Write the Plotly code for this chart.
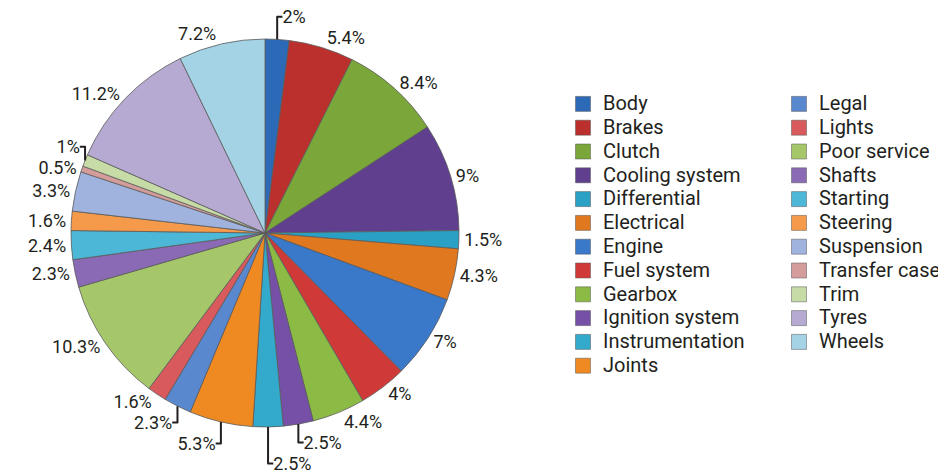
import plotly.graph_objects as go

categories = ["Body", "Brakes", "Clutch", "Cooling system", "Differential", "Electrical",
              "Engine", "Fuel system", "Gearbox", "Ignition system", "Instrumentation", "Joints",
              "Legal", "Lights", "Poor service", "Shafts", "Starting", "Steering",
              "Suspension", "Transfer case", "Trim", "Tyres", "Wheels"]
values = [2, 5.4, 8.4, 9, 1.5, 4.3, 7, 4, 4.4, 2.5, 2.5, 5.3,
          2.3, 1.6, 10.3, 2.3, 2.4, 1.6, 3.3, 0.5, 1, 11.2, 7.2]
labels_text = ["2%", "5.4%", "8.4%", "9%", "1.5%", "4.3%", "7%", "4%", "4.4%", "2.5%", "2.5%", "5.3%",
               "2.3%", "1.6%", "10.3%", "2.3%", "2.4%", "1.6%", "3.3%", "0.5%", "1%", "11.2%", "7.2%"]
colors = ["#2c69b6", "#bb2f2c", "#7aa63a", "#5f3f8e", "#2aa0c4", "#e0781f",
          "#3a78c9", "#cf3a38", "#8bbb44", "#7550a6", "#33a9cb", "#ef8a22",
          "#5a88cf", "#d85a5c", "#a5c76a", "#8a6ab4", "#4db7d8", "#f49a4a",
          "#9fb3de", "#d59c9c", "#c6dba6", "#b7aad2", "#a4d3e6"]

fig = go.Figure()
fig.add_trace(go.Pie(
    labels=categories, values=values, text=labels_text,
    texttemplate="%{text}", textposition="outside", textinfo="text",
    sort=False, direction="clockwise", rotation=0,
    marker=dict(colors=colors, line=dict(color="#5a5a5a", width=0.8)),
    outsidetextfont=dict(family="Roboto", size=18, color="#231f20"),
    showlegend=False, hoverinfo="label+percent",
    domain=dict(x=[63/946, 451/946], y=[54/473, 442/473]),
))

for i, (c, col) in enumerate(zip(categories, colors)):
    fig.add_trace(go.Scatter(
        x=[None], y=[None], mode="markers",
        name='<span style="font-size:20px">' + c + '</span>',
        marker=dict(symbol="square", size=15, color=col, line=dict(color="#555", width=0.5)),
        legend="legend" if i < 12 else "legend2", showlegend=True,
    ))

legend_style = dict(font=dict(family="Roboto", size=16, color="#231f20"),
                    bgcolor="rgba(0,0,0,0)", itemwidth=30, tracegroupgap=0,
                    xanchor="left", yanchor="top", orientation="v", traceorder="normal")
fig.update_layout(
    width=946, height=473, margin=dict(l=0, r=0, t=0, b=0, autoexpand=False),
    paper_bgcolor="white", plot_bgcolor="white",
    xaxis=dict(visible=False), yaxis=dict(visible=False),
    legend=dict(x=555/946, y=1 - 79/473, **legend_style),
    legend2=dict(x=771/946, y=1 - 79/473, **legend_style),
)
fig.write_html("out.html")
